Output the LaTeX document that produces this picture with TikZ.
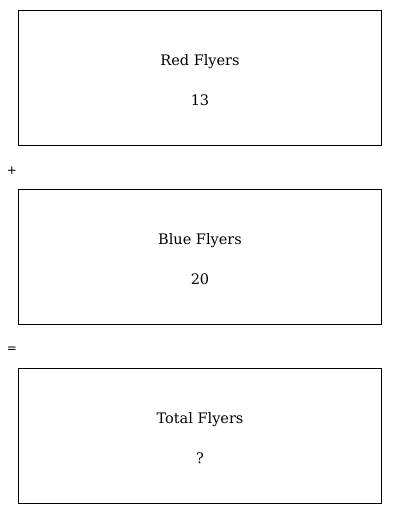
\documentclass[tikz,border=0pt]{standalone}
\usepackage{fontspec}
\newfontfamily\labelfont{DejaVu Serif}
\newfontfamily\opfont{DejaVu Sans}
\begin{document}
\begin{tikzpicture}[x=1pt,y=-1pt,
  box/.style={draw,line width=0.8pt,minimum width=363pt,minimum height=135pt,anchor=north west,inner sep=0pt},
  lbl/.style={font=\labelfont\fontsize{14.5}{17}\selectfont,inner sep=0pt},
  op/.style={font=\opfont\fontsize{12}{14}\selectfont,inner sep=0pt}]
\useasboundingbox (0,0) rectangle (400,514);
\node[box] (red) at (18,10) {};
\node[box] (blue) at (18,189) {};
\node[box] (total) at (18,368) {};
\node[lbl] (redt) at (200,61.5) {Red Flyers};
\node[lbl] (redn) at (200,100) {13};
\node[lbl] (bluet) at (200,240.5) {Blue Flyers};
\node[lbl] (bluen) at (200,279) {20};
\node[lbl] (totalt) at (200,419.5) {Total Flyers};
\node[lbl] (totaln) at (200,458) {?};
\node[op] (plus) at (12,171) {+};
\node[op] (eq) at (12,350) {=};
\end{tikzpicture}
\end{document}
